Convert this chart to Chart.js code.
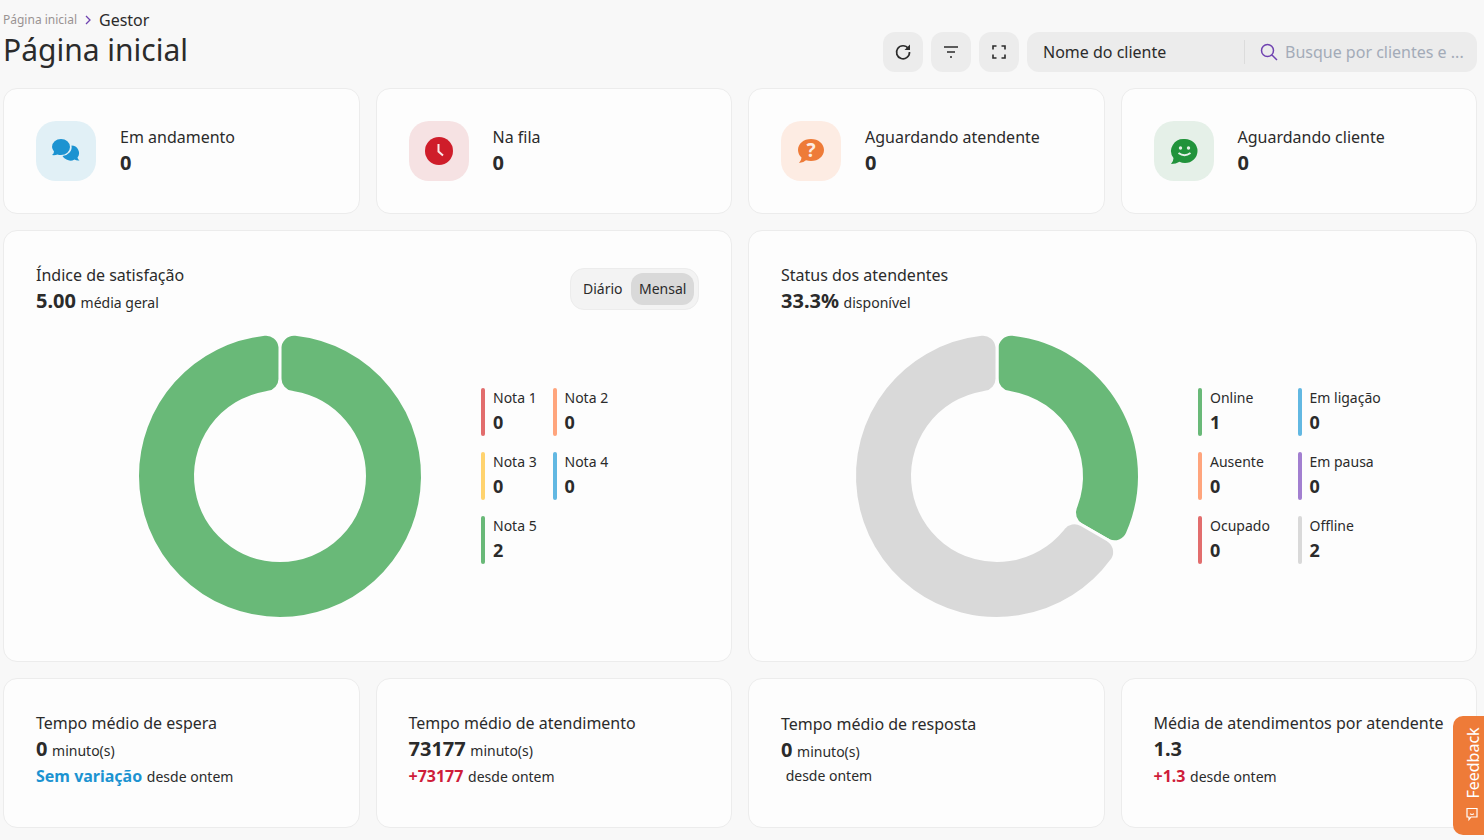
<!DOCTYPE html>
<html lang="pt-BR">
<head>
<meta charset="utf-8">
<title>Página inicial</title>
<script src="https://cdn.jsdelivr.net/npm/chart.js@4"></script>
<style>
  html, body { margin: 0; height: 100%; overflow: hidden; }
  body { width: 1484px; height: 840px; position: relative; background: #f8f8f8; color: #2b2b2b; font-family: "Noto Sans", sans-serif; }
  .abs, .card, .t { position: absolute; }
  .card { background: #fdfdfd; border: 1px solid #ececec; border-radius: 14px; box-sizing: border-box; }
  .t { white-space: nowrap; line-height: 24px; }
  .b { font-weight: 700; }
  .t > .b { margin-right: 1px; }
  .icon { position: absolute; width: 60px; height: 60px; top: 121px; border-radius: 20px; display: flex; align-items: center; justify-content: center; }
  .btn { position: absolute; top: 32px; width: 40px; height: 40px; background: #ececec; border-radius: 12px; display: flex; align-items: center; justify-content: center; }
  .bar { position: absolute; width: 4px; height: 48px; border-radius: 2px; }
  canvas { position: absolute; }
</style>
</head>
<body>

<div class="t" style="left:3px;top:8px;font-size:12px;color:#9a9393">Página inicial</div>
<svg class="abs" style="left:84px;top:15px" width="8" height="10" viewBox="0 0 8 10"><path d="M2 1l4 4-4 4" fill="none" stroke="#6f42b0" stroke-width="1.3"/></svg>
<div class="t" style="left:99px;top:8px;font-size:16px">Gestor</div>
<div class="t" style="left:3px;top:30px;font-size:30px;line-height:40px">Página inicial</div>

<div class="btn" style="left:883px"><svg width="18" height="18" viewBox="0 0 18 18"><path d="M14.300 5.500A6.500 6.500 0 1 0 15.500 9" fill="none" stroke="#2b2b2b" stroke-width="1.700"/><path d="M16 1.500v5.500h-5.500z" fill="#2b2b2b"/></svg></div>
<div class="btn" style="left:931px"><svg width="16" height="14" viewBox="0 0 16 14"><path d="M1 2h14M4 7h8M7 12h2" stroke="#2b2b2b" stroke-width="1.500"/></svg></div>
<div class="btn" style="left:979px"><svg width="14" height="14" viewBox="0 0 14 14"><path d="M1 4.500V1h3.500M9.500 1H13v3.500M13 9.500V13H9.500M4.500 13H1V9.500" fill="none" stroke="#2b2b2b" stroke-width="1.600"/></svg></div>
<div class="abs" style="left:1027px;top:32px;width:450px;height:40px;background:#ececec;border-radius:12px"></div>
<div class="t" style="left:1043px;top:40px;font-size:16px">Nome do cliente</div>
<div class="abs" style="left:1244px;top:40px;width:1px;height:24px;background:#dcdcdc"></div>
<svg class="abs" style="left:1260px;top:43px" width="18" height="18" viewBox="0 0 18 18"><circle cx="7.500" cy="7.500" r="6" fill="none" stroke="#6f42b0" stroke-width="1.500"/><path d="M12 12l5 5" stroke="#6f42b0" stroke-width="1.500"/></svg>
<div class="t" style="left:1285px;top:40px;font-size:16px;color:#a3abb8">Busque por clientes e ...</div>

<div class="card" style="left:3px;top:230px;width:729px;height:432px"></div>
<div class="card" style="left:748px;top:230px;width:729px;height:432px"></div>

<div id="page"></div>

<div class="t" style="left:36px;top:263px;font-size:16px">Índice de satisfação</div>
<div class="t" style="left:36px;top:289px;font-size:14px"><span class="b" style="font-size:20px">5.00</span> média geral</div>
<div class="abs" style="left:570px;top:268px;width:127px;height:40px;background:#f3f3f3;border:1px solid #ececec;border-radius:14px"></div>
<div class="abs" style="left:631px;top:273px;width:63px;height:32px;background:#d9d9d9;border-radius:12px"></div>
<div class="t" style="left:583px;top:277px;font-size:14px">Diário</div>
<div class="t" style="left:639px;top:277px;font-size:14px">Mensal</div>

<div class="t" style="left:781px;top:263px;font-size:16px">Status dos atendentes</div>
<div class="t" style="left:781px;top:289px;font-size:14px"><span class="b" style="font-size:20px">33.3%</span> disponível</div>

<canvas id="notaChart" style="left:130px;top:326px" width="300" height="300"></canvas>
<canvas id="statusChart" style="left:847px;top:326px" width="300" height="300"></canvas>

<div class="abs" style="left:1453px;top:716px;width:31px;height:119px;background:#ee7b38;border-radius:10px 0 0 10px"></div>
<svg class="abs" style="left:1465px;top:807px" width="14" height="14" viewBox="0 0 14 14"><path d="M2 1.500h10v8.500H6l-2 2.500V10H2z" fill="none" stroke="#fff" stroke-width="1.200"/><path d="M5 6.800q2 1.400 4 0M5.200 4v.1M8.800 4v.1" fill="none" stroke="#fff" stroke-width="1.100"/></svg>
<div class="t" style="left:1473px;top:763px;font-size:16px;color:#fff;transform:translate(-50%,-50%) rotate(-90deg)">Feedback</div>

<script>
// Dados dos gráficos
const notaLabels = ['Nota 1', 'Nota 2', 'Nota 3', 'Nota 4', 'Nota 5'];
const notaValues = [0, 0, 0, 0, 2];
const notaColors = ['#e26d6d', '#ffa57d', '#ffd36e', '#62b8e2', '#69b978'];

const statusLabels = ['Online', 'Em ligação', 'Ausente', 'Em pausa', 'Ocupado', 'Offline'];
const statusValues = [1, 0, 0, 0, 0, 2];
const statusColors = ['#69b978', '#62b8e2', '#ffa57d', '#a27fd0', '#e26d6d', '#d9d9d9'];

// Cartões de topo
const topLabels = ['Em andamento', 'Na fila', 'Aguardando atendente', 'Aguardando cliente'];
const topValues = [0, 0, 0, 0];
const cardLefts = [3, 375.5, 748, 1120.5];
const cardWidth = 356.5;
const topTints = ['#e1f0f6', '#f6e2e3', '#fdece3', '#e5f0e8'];
const topIcons = [
  '<svg width="30" height="26" viewBox="0 0 30 26"><path d="M10 1a9 8 0 0 1 9 8 9 8 0 0 1-9 8q-2 0-3.500-.6Q4 17.500 1 17q2-1.500 2-3.500A8 8 0 0 1 1 9a9 8 0 0 1 9-8z" fill="#1c93d1"/><path d="M20.500 7.500a7.500 7.500 0 0 1 6 12q0 1.500 2 3-3 .4-5-1a8 8 0 0 1-8 .1 7.500 7.500 0 0 1-4-3.600 10 9 0 0 0 9-10.500z" fill="#1c93d1"/></svg>',
  '<svg width="28" height="28" viewBox="0 0 28 28"><circle cx="14" cy="14" r="14" fill="#cf1d2a"/><path d="M13.500 7v7.500l4.500 4" fill="none" stroke="#fbe9ea" stroke-width="2"/></svg>',
  '<svg width="28" height="26" viewBox="0 0 28 26"><path d="M14 1c7.500 0 13 4.800 13 11s-5.500 11-13 11q-2.500 0-5-.8Q6 25 2 25q2.500-2.500 2.500-5.500A10.500 10.500 0 0 1 1 12C1 5.800 6.500 1 14 1z" fill="#ee7b38"/><text x="14" y="18.500" text-anchor="middle" font-size="19" font-weight="700" fill="#fdece3" font-family="Noto Sans">?</text></svg>',
  '<svg width="28" height="27" viewBox="0 0 28 27"><path d="M15 1a12.500 12 0 0 1 0 24q-3 0-5.500-1.200Q6 26 1 26q2.500-2.500 2.500-6A12.500 12 0 0 1 15 1z" fill="#21933b"/><circle cx="10.500" cy="10" r="1.700" fill="#e5f0e8"/><circle cx="18.500" cy="10" r="1.700" fill="#e5f0e8"/><path d="M8.500 15q6 4.500 12 0" fill="none" stroke="#e5f0e8" stroke-width="2"/></svg>'
];

// Cartões de baixo
const bottomTitles = ['Tempo médio de espera', 'Tempo médio de atendimento', 'Tempo médio de resposta', 'Média de atendimentos por atendente'];
const bottomValues = ['0', '73177', '0', '1.3'];
const bottomUnits = ['minuto(s)', 'minuto(s)', 'minuto(s)', ''];
const bottomDeltas = ['Sem variação', '+73177', '', '+1.3'];
const bottomDeltaColors = ['#1c93d1', '#cf1d3a', '#cf1d3a', '#cf1d3a'];
const bottomOffsets = [0, 0, 1, 0];
const deltaTops = [763.5, 763.5, 763, 763.5];

const page = document.getElementById('page');

function addHtml(html) {
  page.insertAdjacentHTML('beforeend', html);
}

topLabels.forEach((label, i) => {
  const x = cardLefts[i];
  addHtml(`<div class="card" style="left:${x}px;top:88px;width:${cardWidth}px;height:126px"></div>`);
  addHtml(`<div class="icon" style="left:${x + 33}px;background:${topTints[i]}">${topIcons[i]}</div>`);
  addHtml(`<div class="t" style="left:${x + 117}px;top:125px;font-size:16px">${label}</div>`);
  addHtml(`<div class="t b" style="left:${x + 117}px;top:151px;font-size:20px">${topValues[i]}</div>`);
});

bottomTitles.forEach((title, i) => {
  const x = cardLefts[i];
  const off = bottomOffsets[i];
  addHtml(`<div class="card" style="left:${x}px;top:678px;width:${cardWidth}px;height:150px"></div>`);
  addHtml(`<div class="t" style="left:${x + 33}px;top:${711 + off}px;font-size:16px">${title}</div>`);
  addHtml(`<div class="t" style="left:${x + 33}px;top:${737 + off}px;font-size:14px"><span class="b" style="font-size:20px">${bottomValues[i]}</span> ${bottomUnits[i]}</div>`);
  addHtml(`<div class="t" style="left:${x + 33}px;top:${deltaTops[i]}px;font-size:14px"><span class="b" style="font-size:16px;color:${bottomDeltaColors[i]}">${bottomDeltas[i]}</span> ${bottomDeltas[i] ? '' : '&nbsp;'}desde ontem</div>`);
});

// Legenda em duas colunas, igual para os dois gráficos
function addLegend(labels, values, colors, colA, colB) {
  labels.forEach((label, i) => {
    const x = i % 2 === 0 ? colA : colB;
    const y = 388 + Math.floor(i / 2) * 64;
    addHtml(`<div class="bar" style="left:${x}px;top:${y}px;background:${colors[i]}"></div>`);
    addHtml(`<div class="t" style="left:${x + 12}px;top:${y - 2}px;font-size:14px">${label}</div>`);
    addHtml(`<div class="t b" style="left:${x + 12}px;top:${y + 22}px;font-size:18px">${values[i]}</div>`);
  });
}
addLegend(notaLabels, notaValues, notaColors, 481, 552.5);
addLegend(statusLabels, statusValues, statusColors, 1198, 1297.5);

function drawDonut(id, labels, values, colors) {
  return new Chart(document.getElementById(id), {
    type: 'doughnut',
    data: {
      labels: labels,
      datasets: [{
        data: values,
        backgroundColor: colors,
        borderColor: '#fdfdfd',
        borderWidth: 3,
        borderRadius: 14
      }]
    },
    options: {
      responsive: false,
      animation: false,
      radius: 142.5,
      cutout: '59.3%',
      layout: { padding: 0 },
      plugins: { legend: { display: false }, tooltip: { enabled: false } }
    }
  });
}

drawDonut('notaChart', notaLabels, notaValues, notaColors);
drawDonut('statusChart', statusLabels, statusValues, statusColors);
</script>
</body>
</html>
